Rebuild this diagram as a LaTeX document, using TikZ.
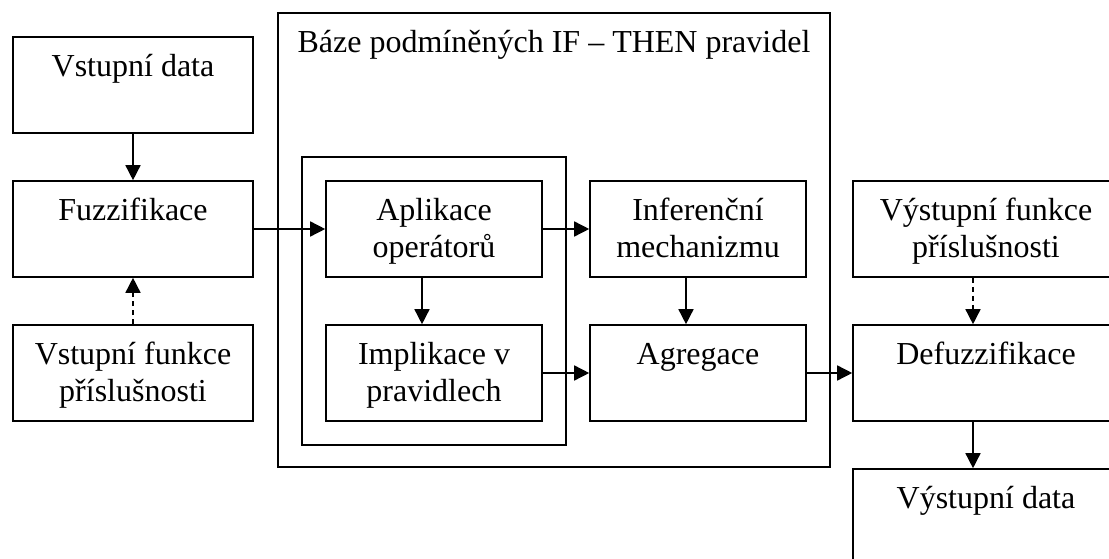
\documentclass[tikz,border=0pt]{standalone}
\usepackage{fontspec}
\setmainfont{Liberation Serif}
\usetikzlibrary{arrows.meta}
\begin{document}
\begin{tikzpicture}[x=1pt,y=-1pt,
  frame/.style={draw, line width=1.6pt, inner sep=0pt},
  blk/.style={frame, minimum width=#1, minimum height=96pt},
  blk/.default=240pt,
  lbl/.style={anchor=base, align=center, inner sep=0pt,
    font=\fontsize{32pt}{37pt}\selectfont},
  arr/.style={line width=1.5pt, -{Triangle[length=15pt,width=15pt]}},
  dsh/.style={arr, dash pattern=on 5pt off 4pt}]
\useasboundingbox (0,0) rectangle (1109,559);
\clip (0,0) rectangle (1109,559);

% rule base and the inner group of rule steps
\node[frame, minimum width=552pt, minimum height=454pt] (baze) at (554,240) {};
\node[lbl] at ([yshift=-40pt]baze.north) {Báze podmíněných IF – THEN pravidel};
\node[frame, minimum width=264pt, minimum height=288pt] (grp) at (434,301) {};

% input column (two-line labels are placed by their last baseline)
\node[blk] (vdata) at (133,85) {};
\node[lbl] at ([yshift=-40pt]vdata.north) {Vstupní data};
\node[blk] (fuzz) at (133,229) {};
\node[lbl] at ([yshift=-40pt]fuzz.north) {Fuzzifikace};
\node[blk] (vfun) at (133,373) {};
\node[lbl] at ([yshift=-77pt]vfun.north) {Vstupní funkce\\příslušnosti};

% inference steps
\node[blk=216pt] (apl) at (434,229) {};
\node[lbl] at ([yshift=-77pt]apl.north) {Aplikace\\operátorů};
\node[blk=216pt] (impl) at (434,373) {};
\node[lbl] at ([yshift=-77pt]impl.north) {Implikace v\\pravidlech};
\node[blk=216pt] (inf) at (698,229) {};
\node[lbl] at ([yshift=-77pt]inf.north) {Inferenční\\mechanizmu};
\node[blk=216pt] (agr) at (698,373) {};
\node[lbl] at ([yshift=-40pt]agr.north) {Agregace};

% output column
\node[blk=266pt] (ofun) at (986,229) {};
\node[lbl] at ([yshift=-77pt]ofun.north) {Výstupní funkce\\příslušnosti};
\node[blk=266pt] (defz) at (986,373) {};
\node[lbl] at ([yshift=-40pt]defz.north) {Defuzzifikace};
\node[blk=266pt] (odata) at (986,517) {};
\node[lbl] at ([yshift=-40pt]odata.north) {Výstupní data};

% connectors
\draw[arr] (vdata.south) -- (fuzz.north);
\draw[dsh] (vfun.north) -- (fuzz.south);
\draw[arr] (fuzz.east) -- (apl.west);
\draw[arr] ([xshift=-12pt]apl.south) -- ([xshift=-12pt]impl.north);
\draw[arr] (apl.east) -- (inf.west);
\draw[arr] ([xshift=-12pt]inf.south) -- ([xshift=-12pt]agr.north);
\draw[arr] (impl.east) -- (agr.west);
\draw[arr] (agr.east) -- (defz.west);
\draw[dsh] ([xshift=-13pt]ofun.south) -- ([xshift=-13pt]defz.north);
\draw[arr] ([xshift=-13pt]defz.south) -- ([xshift=-13pt]odata.north);
\end{tikzpicture}
\end{document}
